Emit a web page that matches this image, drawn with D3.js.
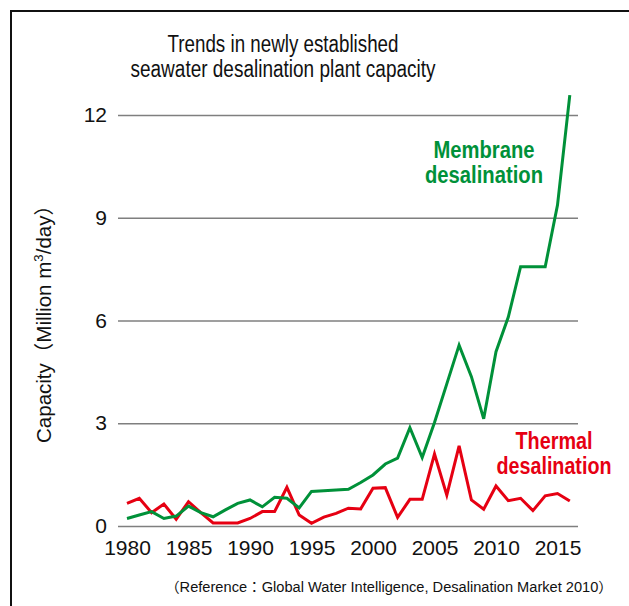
<!DOCTYPE html>
<html>
<head>
<meta charset="utf-8">
<script src="https://cdn.jsdelivr.net/npm/d3@7"></script>
<style>
  html, body { margin: 0; padding: 0; background: #fff; }
  svg { display: block; }
  text { font-family: "Liberation Sans", Arial, "Noto Sans CJK JP", sans-serif; }
</style>
</head>
<body>
<svg id="chart" width="629" height="606"></svg>
<script>
// Newly established seawater desalination capacity (million m3/day)
const years = d3.range(1980, 2017);
const membrane = [
  0.22, 0.32, 0.42, 0.22, 0.29, 0.58, 0.39, 0.27, 0.47, 0.66,
  0.76, 0.56, 0.84, 0.81, 0.53, 1.01, 1.03, 1.05, 1.07, 1.27,
  1.49, 1.81, 1.98, 2.87, 2.00, 3.02, 4.15, 5.28, 4.36, 3.13,
  5.09, 6.10, 7.57, 7.57, 7.57, 9.37, 12.58
];
const thermal = [
  0.66, 0.81, 0.39, 0.64, 0.20, 0.71, 0.39, 0.09, 0.09, 0.09,
  0.22, 0.42, 0.42, 1.13, 0.32, 0.08, 0.26, 0.37, 0.52, 0.50,
  1.10, 1.12, 0.25, 0.78, 0.78, 2.10, 0.90, 2.34, 0.76, 0.49,
  1.17, 0.74, 0.81, 0.45, 0.88, 0.95, 0.73
];
const yTicks = [0, 3, 6, 9, 12];
const xTicks = [1980, 1985, 1990, 1995, 2000, 2005, 2010, 2015];

const svg = d3.select("#chart");

// Outer frame
svg.append("rect")
  .attr("x", 11).attr("y", 11)
  .attr("width", 640).attr("height", 620)
  .attr("fill", "none").attr("stroke", "#111").attr("stroke-width", 2);

const x = d3.scaleLinear().domain([1980, 2015]).range([127, 557.5]);
const y = d3.scaleLinear().domain([0, 12]).range([526, 115]);

// Horizontal gridlines with value labels
const yAxis = d3.axisLeft(y).tickValues(yTicks).tickSize(-460).tickPadding(11);
const gy = svg.append("g").attr("transform", "translate(118,0)").call(yAxis);
gy.select(".domain").remove();
gy.selectAll(".tick line").attr("stroke", "#7f7f7f").attr("stroke-width", 1.5);
gy.selectAll(".tick text")
  .attr("fill", "#111").attr("font-size", 21)
  .attr("font-family", "'Liberation Sans', Arial, sans-serif");

// Year labels
const xAxis = d3.axisBottom(x).tickValues(xTicks).tickSize(0).tickPadding(0).tickFormat(d3.format("d"));
const gx = svg.append("g").attr("transform", "translate(0,540)").call(xAxis);
gx.select(".domain").remove();
gx.selectAll(".tick text")
  .attr("fill", "#111").attr("font-size", 21).attr("dy", "0.7em")
  .attr("font-family", "'Liberation Sans', Arial, sans-serif");

// Series lines
const line = d3.line().x((d, i) => x(years[i])).y(d => y(d));
svg.append("path").datum(thermal)
  .attr("d", line).attr("fill", "none")
  .attr("stroke", "#e60012").attr("stroke-width", 3).attr("stroke-linejoin", "miter");
svg.append("path").datum(membrane)
  .attr("d", line).attr("fill", "none")
  .attr("stroke", "#009139").attr("stroke-width", 3).attr("stroke-linejoin", "miter");

// Title
const title = ["Trends in newly established", "seawater desalination plant capacity"];
const titleW = [231, 305];
title.forEach((t, i) => {
  svg.append("text")
    .attr("x", 283).attr("y", 52 + i * 25)
    .attr("text-anchor", "middle")
    .attr("font-size", 23).attr("fill", "#111")
    .attr("textLength", titleW[i]).attr("lengthAdjust", "spacingAndGlyphs")
    .text(t);
});

// Series labels
function seriesLabel(lines, widths, cx, y0, color) {
  lines.forEach((t, i) => {
    svg.append("text")
      .attr("x", cx).attr("y", y0 + i * 25)
      .attr("text-anchor", "middle")
      .attr("font-size", 23).attr("font-weight", "bold").attr("fill", color)
      .attr("textLength", widths[i]).attr("lengthAdjust", "spacingAndGlyphs")
      .text(t);
  });
}
seriesLabel(["Membrane", "desalination"], [101, 118], 484, 158, "#009139");
seriesLabel(["Thermal", "desalination"], [77, 115], 554, 449, "#e60012");

// Y axis title
const yt = svg.append("text")
  .attr("transform", "translate(51,319) rotate(-90)")
  .attr("text-anchor", "middle")
  .attr("font-size", 20).attr("fill", "#111")
  .attr("textLength", 248).attr("lengthAdjust", "spacingAndGlyphs");
yt.append("tspan").text("Capacity（Million m");
yt.append("tspan").attr("font-size", 13).attr("dy", -8).text("3");
yt.append("tspan").attr("dy", 8).text("/day）");

// Source note
svg.append("text")
  .attr("x", 165).attr("y", 592)
  .attr("font-size", 14).attr("fill", "#111")
  .attr("textLength", 448).attr("lengthAdjust", "spacingAndGlyphs")
  .text("（Reference：Global Water Intelligence, Desalination Market 2010）");
</script>
</body>
</html>
